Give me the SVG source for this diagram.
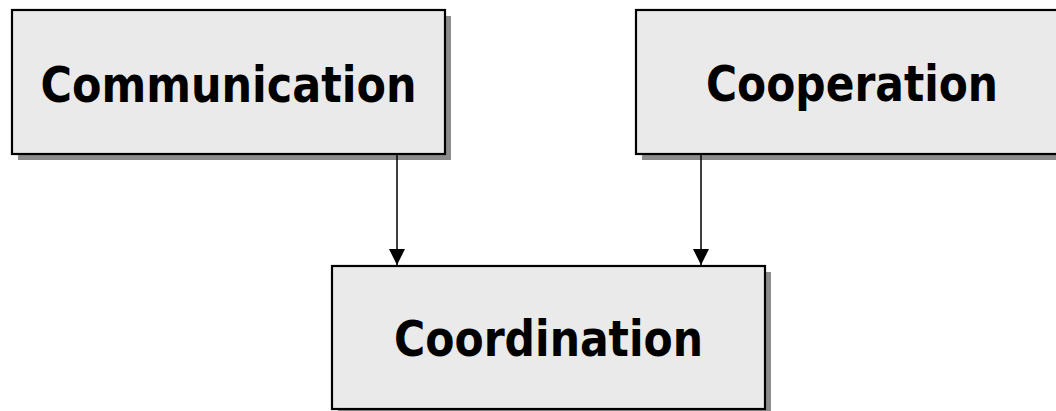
<svg xmlns="http://www.w3.org/2000/svg" width="1056" height="411" viewBox="0 0 1056 411">
<style>
.shadow{fill:#8c8c8c}
.box{fill:#eaeaea;stroke:#000;stroke-width:2.2}
.label{font-family:"DejaVu Sans",Verdana,sans-serif;font-weight:bold;font-size:49px;fill:#000;text-anchor:middle}
.conn{stroke:#000;stroke-width:1.5;fill:none}
</style>
<defs>
<marker id="arrow" markerUnits="userSpaceOnUse" markerWidth="17" markerHeight="17" refX="16" refY="8" orient="auto">
<path d="M0,0 L16,8 L0,16 Z" fill="#000"/>
</marker>
</defs>
<rect width="1056" height="411" fill="#fff"/>
<g id="communication">
<rect class="shadow" x="18" y="16" width="433" height="144"/>
<rect class="box" x="12" y="10" width="433" height="144"/>
<text class="label" x="228.5" y="102" textLength="376" lengthAdjust="spacingAndGlyphs">Communication</text>
</g>
<g id="cooperation">
<rect class="shadow" x="642" y="16" width="433" height="144"/>
<rect class="box" x="636" y="10" width="433" height="144"/>
<text class="label" x="852" y="101" textLength="292" lengthAdjust="spacingAndGlyphs">Cooperation</text>
</g>
<g id="coordination">
<rect class="shadow" x="338" y="272" width="433" height="143"/>
<rect class="box" x="332" y="266" width="433" height="143"/>
<text class="label" x="548.5" y="356" textLength="309" lengthAdjust="spacingAndGlyphs">Coordination</text>
</g>
<g id="connectors">
<line class="conn" x1="397" y1="155" x2="397" y2="265" marker-end="url(#arrow)"/>
<line class="conn" x1="701" y1="155" x2="701" y2="265" marker-end="url(#arrow)"/>
</g>
</svg>
